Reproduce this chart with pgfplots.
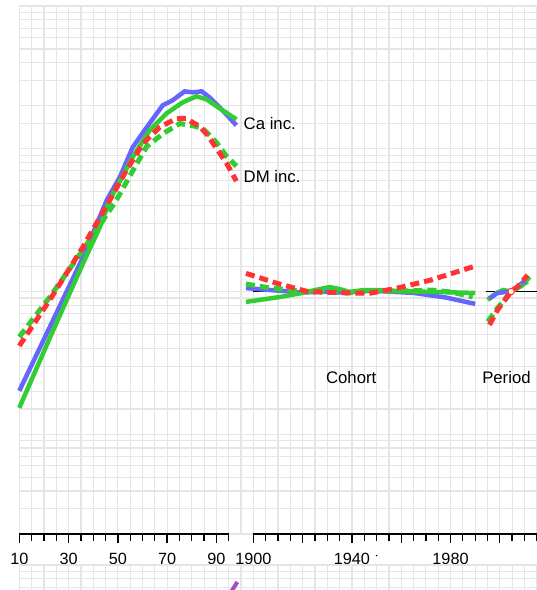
\documentclass[border=0pt]{standalone}
\usepackage{pgfplots}
\pgfplotsset{compat=1.18}
\usepackage{fontspec}
\setmainfont{Liberation Sans}
\definecolor{cblue}{RGB}{102,102,255}
\definecolor{cgreen}{RGB}{50,205,50}
\definecolor{cred}{RGB}{255,51,51}
\definecolor{cgrid}{RGB}{229,229,229}
\definecolor{cpurple}{RGB}{160,80,200}
\begin{document}
\begin{tikzpicture}[x=1bp,y=1bp]
\begin{axis}[
  at={(0,0)}, anchor=south west,
  scale only axis, width=517.7bp, height=528bp,
  xmin=10, xmax=220.1, ymin=-1.69897, ymax=2,
  axis line style={draw=none},
  clip=false,
  xtick={10,30,50,70,90,105,125,145,165,185,205},
  xticklabels={10,30,50,70,90,1900,,1940,,1980,},
  minor xtick={15,20,25,35,40,45,55,60,65,75,80,85,95,110,115,120,130,135,140,150,155,160,170,175,180,190,195,200,210,215,220},
  tick pos=left, tick align=outside,
  major tick length=9bp, minor tick length=6.5bp,
  tick style={black, line width=1.3bp},
  ytick style={draw=none},
  xmajorgrids=false, ymajorgrids=true,
  extra x ticks={10,15,...,220},
  extra x tick labels={},
  extra x tick style={grid=major, tick style={draw=none}},
  ytick={-1.69897,-1.52288,-1.39794,-1.30103,-1.22185,-1.15490,-1.09691,-1.04576,
         -1,-0.82391,-0.69897,-0.52288,-0.39794,-0.30103,-0.22185,-0.15490,-0.09691,-0.04576,
         0,0.17609,0.30103,0.47712,0.60206,0.69897,0.77815,0.84510,0.90309,0.95424,
         1,1.17609,1.30103,1.47712,1.60206,1.69897,1.77815,1.84510,1.90309,1.95424,2},
  yticklabels={},
  major grid style={cgrid, line width=1.2bp},
  xticklabel style={font=\fontsize{16.3}{19}\selectfont, yshift=-6.3bp},
]
% axis segments
\draw[line width=1.3bp] (axis cs:10,-1.69897) -- (axis cs:95,-1.69897);
\draw[line width=1.3bp] (axis cs:105,-1.69897) -- (axis cs:220.1,-1.69897);
\fill (axis cs:155,-1.850) circle[radius=0.8bp];
% reference lines RR = 1
\addplot[black, line width=1.2bp] coordinates {(105,0) (194.8,0)};
\addplot[black, line width=1.2bp] coordinates {(199.5,0) (220.1,0)};
% ---- Age ----
\addplot[cblue, line width=4.5bp] coordinates {
(10,-0.696) (22.4,-0.248) (35.3,0.220) (45.5,0.640) (50.8,0.801) (56.0,1.010) (61.7,1.150) (68.2,1.304) (72.2,1.339) (77.1,1.402) (80.3,1.395) (84.0,1.402) (87.2,1.360) (92.5,1.269) (98.1,1.164)};
\addplot[cgreen, line width=4.5bp] coordinates {
(10,-0.815) (22.4,-0.325) (35.9,0.199) (42.7,0.451) (46.7,0.640) (56.0,0.941) (62.9,1.129) (69.8,1.248) (76.3,1.325) (81.9,1.367) (86.0,1.346) (91.3,1.283) (98.1,1.206)};
\addplot[cgreen, line width=5bp, dash pattern=on 9bp off 5bp] coordinates {
(10,-0.318) (22.4,-0.038) (35.8,0.290) (42.7,0.465) (49.4,0.640) (56.2,0.850) (61.6,1.013) (68.3,1.106) (75.1,1.176) (80.3,1.162) (84.4,1.143) (90.0,1.045) (94.1,0.947) (98.1,0.878)};
\addplot[cred, line width=5bp, dash pattern=on 9bp off 5bp] coordinates {
(10,-0.381) (22.4,-0.059) (35.8,0.311) (46.7,0.640) (53.5,0.850) (60.2,1.036) (67.0,1.152) (73.7,1.211) (77.9,1.213) (80.3,1.185) (83.2,1.157) (86.4,1.094) (90.0,1.003) (94.1,0.899) (98.1,0.773)};
% ---- Cohort ----
\addplot[cblue, line width=4.5bp] table[x expr=\thisrow{t}-1795, y=v, row sep=\\] {
t v \\ 1897 0.024 \\ 1907 0.010 \\ 1920 -0.007 \\ 1931 0 \\ 1938 -0.010 \\ 1944 0.005 \\ 1951 0.003 \\ 1965 -0.010 \\ 1978 -0.042 \\ 1990 -0.087 \\
};
\addplot[cgreen, line width=4.5bp] table[x expr=\thisrow{t}-1795, y=v, row sep=\\] {
t v \\ 1897 -0.073 \\ 1911 -0.038 \\ 1920 -0.010 \\ 1927 0.017 \\ 1931 0.031 \\ 1935 0.017 \\ 1939 -0.003 \\ 1945 0.010 \\ 1951 0.010 \\ 1959 0.003 \\ 1972 -0.003 \\ 1990 -0.010 \\
};
\addplot[cgreen, line width=5bp, dash pattern=on 9bp off 5bp] table[x expr=\thisrow{t}-1795, y=v, row sep=\\] {
t v \\ 1897 0.052 \\ 1907 0.024 \\ 1919 0.003 \\ 1931 -0.003 \\ 1938 -0.010 \\ 1944 0.003 \\ 1959 0.003 \\ 1972 0.010 \\ 1980 -0.003 \\ 1989 -0.038 \\
};
\addplot[cred, line width=5bp, dash pattern=on 9bp off 5bp] table[x expr=\thisrow{t}-1795, y=v, row sep=\\] {
t v \\ 1897 0.127 \\ 1910 0.055 \\ 1922 -0.001 \\ 1935 -0.008 \\ 1947 -0.013 \\ 1958 0.022 \\ 1972 0.080 \\ 1990 0.178 \\
};
% ---- Period ----
\addplot[cgreen, line width=4.5bp] table[x expr=\thisrow{t}-1795, y=v, row sep=\\] {
t v \\ 1995.1 -0.059 \\ 1998.5 -0.013 \\ 2001.2 0.010 \\ 2004.6 0 \\ 2008.0 0.034 \\ 2011.3 0.069 \\
};
\addplot[cblue, line width=4.5bp] table[x expr=\thisrow{t}-1795, y=v, row sep=\\] {
t v \\ 1995.8 -0.048 \\ 1999.1 -0.010 \\ 2004.6 0 \\ 2008.0 0.045 \\ 2011.3 0.090 \\
};
\addplot[cgreen, line width=5bp, dash pattern=on 9bp off 5bp] table[x expr=\thisrow{t}-1795, y=v, row sep=\\] {
t v \\ 1995.1 -0.211 \\ 1998.5 -0.129 \\ 2004.6 0 \\ 2009.2 0.045 \\ 2012.0 0.103 \\
};
\addplot[cred, line width=5bp, dash pattern=on 9bp off 5bp] table[x expr=\thisrow{t}-1795, y=v, row sep=\\] {
t v \\ 1995.8 -0.234 \\ 1999.1 -0.129 \\ 2002.6 -0.048 \\ 2004.6 0 \\ 2007.3 0.034 \\ 2011.3 0.115 \\
};
\addplot[only marks, mark=*, mark size=3.2bp, mark options={fill=white, draw=cred, line width=1bp}] table[x expr=\thisrow{t}-1795, y=v, row sep=\\] {
t v \\ 2004.6 0 \\
};
% labels
\node[anchor=west, inner sep=0pt, font=\fontsize{16.8}{19}\selectfont] at (axis cs:101,1.178) {Ca inc.};
\node[anchor=west, inner sep=0pt, font=\fontsize{16.8}{19}\selectfont] at (axis cs:101,0.808) {DM inc.};
\node[inner sep=0pt, font=\fontsize{16.8}{19}\selectfont] at (axis cs:144.7,-0.605) {Cohort};
\node[inner sep=0pt, font=\fontsize{16.8}{19}\selectfont] at (axis cs:207.7,-0.605) {Period};
\end{axis}
\begin{axis}[
  at={(0,-31bp)}, anchor=north west,
  scale only axis, width=517.7bp, height=30bp,
  xmin=10, xmax=220.1, ymin=0.79, ymax=1,
  axis line style={draw=none},
  xtick={10,15,...,220}, xticklabels={},
  ytick={0.84510,0.90309,0.95424,1}, yticklabels={},
  tick style={draw=none},
  grid=major,
  major grid style={cgrid, line width=1.2bp},
]
\addplot[cpurple, line width=4bp] coordinates {(95.5,0.80) (98.5,0.881)};
\end{axis}
\pgfresetboundingbox
\useasboundingbox (-19.3bp,-56bp) rectangle (517.7bp,534bp);
\end{tikzpicture}
\end{document}
